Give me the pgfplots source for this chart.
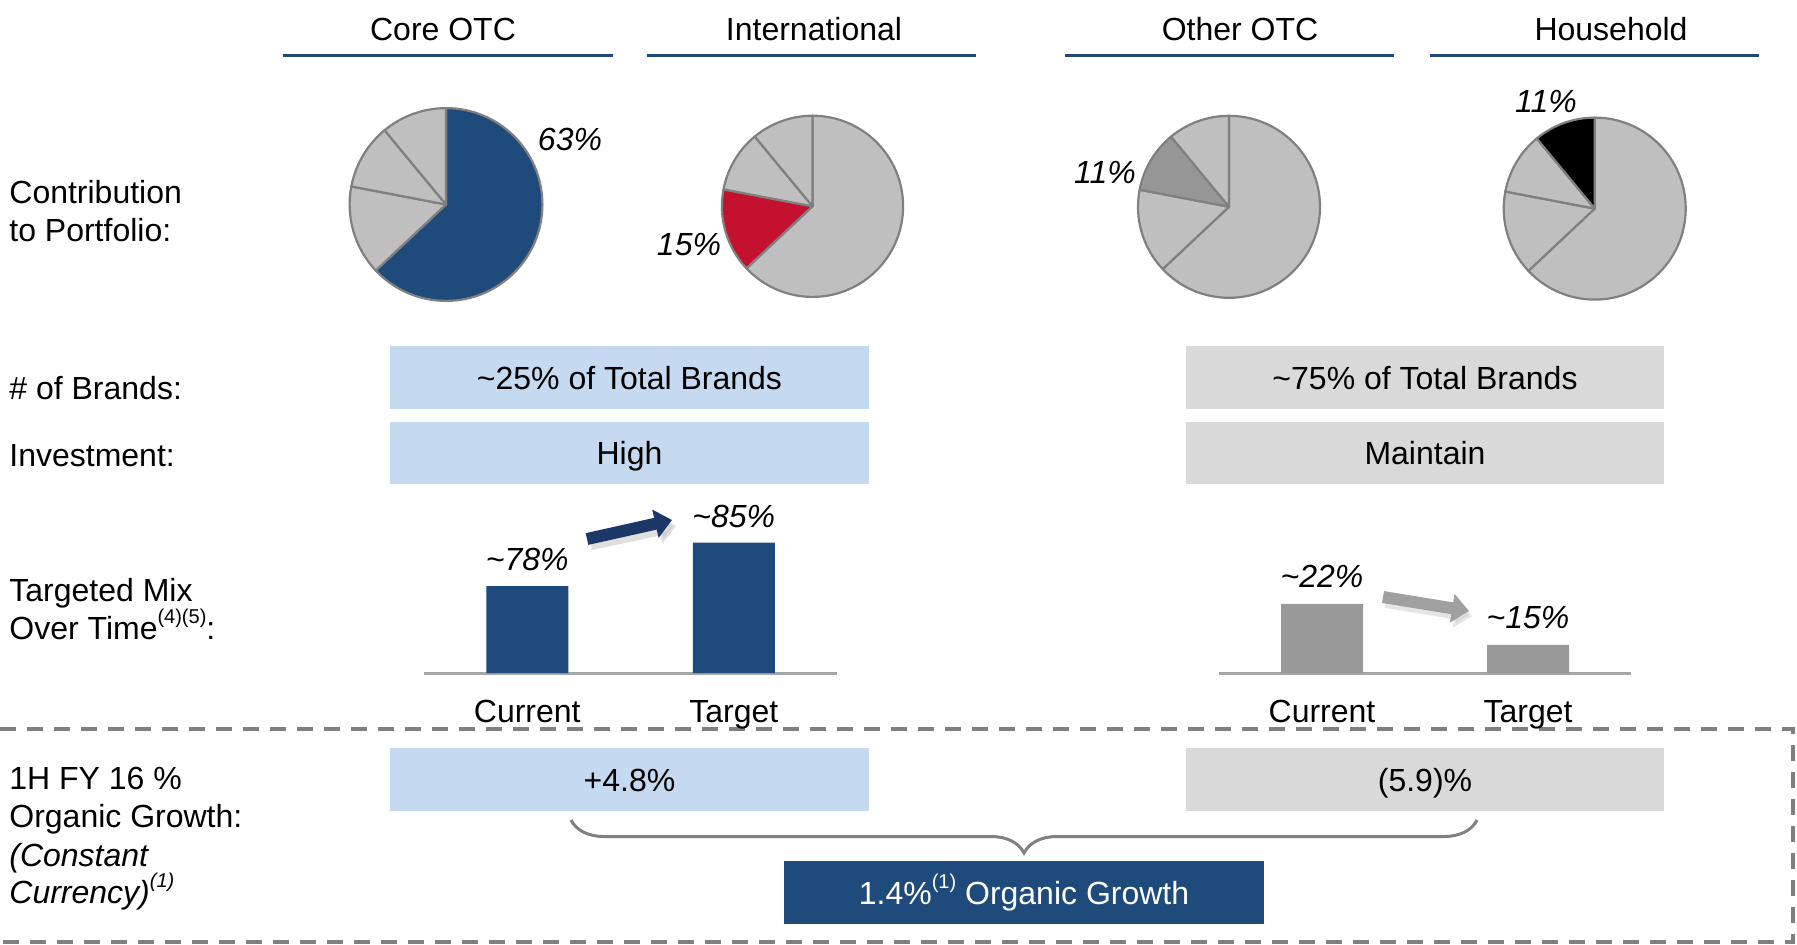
\documentclass[border=0pt]{standalone}
\usepackage{pgfplots}
\pgfplotsset{compat=1.18}
\usepackage{fontspec}
\setmainfont{Liberation Sans}
\usetikzlibrary{decorations.pathreplacing,arrows.meta}
\definecolor{hdblue}{RGB}{31,73,125}
\definecolor{barblue}{RGB}{31,74,124}
\definecolor{arrowblue}{RGB}{28,56,104}
\definecolor{lightbox}{RGB}{197,217,241}
\definecolor{greybox}{RGB}{217,217,217}
\definecolor{piegrey}{RGB}{191,191,191}
\definecolor{pieedge}{RGB}{128,128,128}
\definecolor{piedark}{RGB}{150,150,150}
\definecolor{piered}{RGB}{197,17,48}
\definecolor{bargrey}{RGB}{153,153,153}
\definecolor{axisgrey}{RGB}{166,166,166}
\definecolor{framegrey}{RGB}{128,128,128}
\definecolor{arrowgrey}{RGB}{160,160,160}
\newcommand\fs{\fontsize{16}{19}\selectfont}
\newcommand\sups[1]{\raisebox{0.5em}{\fontsize{10}{12}\selectfont #1}}
\newcommand\drawpie[4]{%
  \begin{scope}[shift={(#1,#2)}]
  \gdef\cum{0}
  \foreach \v/\c in {#4}{
    \pgfmathsetmacro\sa{90-3.6*\cum}
    \pgfmathsetmacro\ea{90-3.6*(\cum+\v)}
    \filldraw[fill=\c, draw=pieedge, line width=1.1pt, line join=round] (0,0) -- (\sa:#3) arc[start angle=\sa, end angle=\ea, radius=#3] -- cycle;
    \pgfmathsetmacro\nc{\cum+\v}
    \global\let\cum\nc
  }
  \end{scope}}
\begin{document}
\begin{tikzpicture}[x=0.5pt,y=-0.5pt,font=\fs]
\useasboundingbox (0,0) rectangle (1797,944);
\coordinate (BL) at (424,673);
\coordinate (BR) at (1219,673);

% headers
\foreach \xa/\xb/\xc/\t in {283/613/443/Core OTC, 647/976/814/International, 1065/1394/1240/Other OTC, 1430/1759/1611/Household}{
  \draw[hdblue, line width=1.5pt] (\xa,55) -- (\xb,55);
  \node[anchor=base, inner sep=0] at (\xc,40) {\t};
}

% pies (portfolio shares 63/15/11/11)
\drawpie{446}{204.5}{48.2pt}{63/barblue,15/piegrey,11/piegrey,11/piegrey}
\drawpie{812.5}{206.3}{45.3pt}{63/piegrey,15/piered,11/piegrey,11/piegrey}
\drawpie{1229}{206.8}{45.5pt}{63/piegrey,15/piegrey,11/piedark,11/piegrey}
\drawpie{1594.7}{208.6}{45.5pt}{63/piegrey,15/piegrey,11/piegrey,11/black}
\node[anchor=base, inner sep=0, font=\fs\itshape] at (570,150) {63\%};
\node[anchor=base, inner sep=0, font=\fs\itshape] at (689,255) {15\%};
\node[anchor=base, inner sep=0, font=\fs\itshape] at (1105,183) {11\%};
\node[anchor=base, inner sep=0, font=\fs\itshape] at (1546,112) {11\%};

% left labels
\node[anchor=base west, inner sep=0] at (9,203) {Contribution};
\node[anchor=base west, inner sep=0] at (9,241) {to Portfolio:};
\node[anchor=base west, inner sep=0] at (9,399) {\# of Brands:};
\node[anchor=base west, inner sep=0] at (9,466) {Investment:};
\node[anchor=base west, inner sep=0] at (9,601) {Targeted Mix};
\node[anchor=base west, inner sep=0] at (9,639) {Over Time\sups{(4)(5)}:};
\node[anchor=base west, inner sep=0] at (9,789) {1H FY 16 \%};
\node[anchor=base west, inner sep=0] at (9,827) {Organic Growth:};
\node[anchor=base west, inner sep=0, font=\fs\itshape] at (9,866) {(Constant};
\node[anchor=base west, inner sep=0, font=\fs\itshape] at (9,903) {Currency)\sups{(1)}};

% boxes
\fill[lightbox] (390,346) rectangle (869,409);
\fill[lightbox] (390,422) rectangle (869,484);
\fill[greybox] (1186,346) rectangle (1664,409);
\fill[greybox] (1186,422) rectangle (1664,484);
\node[anchor=base, inner sep=0] at (629.5,389) {\textasciitilde25\% of Total Brands};
\node[anchor=base, inner sep=0] at (629.5,464.5) {High};
\node[anchor=base, inner sep=0] at (1425,389) {\textasciitilde75\% of Total Brands};
\node[anchor=base, inner sep=0] at (1425,464.5) {Maintain};

\fill[lightbox] (390,748) rectangle (869,811);
\fill[greybox] (1186,748) rectangle (1664,811);
\node[anchor=base, inner sep=0] at (629.5,791) {+4.8\%};
\node[anchor=base, inner sep=0] at (1425,791) {(5.9)\%};
\fill[barblue] (784,861) rectangle (1264,924);
\node[anchor=base, inner sep=0, white] at (1024,904) {1.4\%\sups{(1)} Organic Growth};

% brace
\draw[decorate, decoration={brace, mirror, amplitude=16.5pt}, pieedge, line width=1.5pt] (571,820) -- (1477,820);

% dashed frame
\draw[framegrey, line width=1.75pt, dash pattern=on 8pt off 5.5pt] (0,729) -- (1793,729) -- (1793,942) -- (0,942);

% bar charts
\begin{axis}[at={(BL)}, anchor=south west, scale only axis,
  width=206.5pt, height=111.86pt, xmin=-0.5, xmax=1.5, ymin=64, ymax=100,
  axis x line=bottom, axis y line=none,
  x axis line style={-, draw=axisgrey, line width=1.5pt},
  xtick={0,1}, xticklabels={Current,Target}, major tick length=0pt,
  xticklabel style={font=\fs, anchor=base, yshift=-24.5pt},
  ybar, bar width=41pt,
  /pgf/number format/assume math mode=true,
  nodes near coords={\textasciitilde\pgfmathprintnumber{\pgfplotspointmeta}\%},
  every node near coord/.append style={font=\fs\itshape, yshift=4pt}]
\addplot[fill=barblue, draw=none] coordinates {(0,78) (1,85)};
\end{axis}

\begin{axis}[at={(BR)}, anchor=south west, scale only axis,
  width=206pt, height=111.86pt, xmin=-0.5, xmax=1.5, ymin=10.2, ymax=48.4,
  axis x line=bottom, axis y line=none,
  x axis line style={-, draw=axisgrey, line width=1.5pt},
  xtick={0,1}, xticklabels={Current,Target}, major tick length=0pt,
  xticklabel style={font=\fs, anchor=base, yshift=-24.5pt},
  ybar, bar width=41pt,
  /pgf/number format/assume math mode=true,
  nodes near coords={\textasciitilde\pgfmathprintnumber{\pgfplotspointmeta}\%},
  every node near coord/.append style={font=\fs\itshape, yshift=4.5pt}]
\addplot[fill=bargrey, draw=none] coordinates {(0,22) (1,15)};
\end{axis}

% arrows
\draw[black!25, opacity=0.5, line width=6pt, -{Triangle[length=8.5pt,width=14pt]}] (591,544) -- (676,526);
\draw[arrowblue, line width=6pt, -{Triangle[length=8.5pt,width=14pt]}] (587,539) -- (672,520);
\draw[black!20, opacity=0.5, line width=6pt, -{Triangle[length=8.5pt,width=14pt]}] (1386,602) -- (1472,616);
\draw[arrowgrey, line width=6pt, -{Triangle[length=8.5pt,width=14pt]}] (1383,597) -- (1469,611);
\end{tikzpicture}
\end{document}
